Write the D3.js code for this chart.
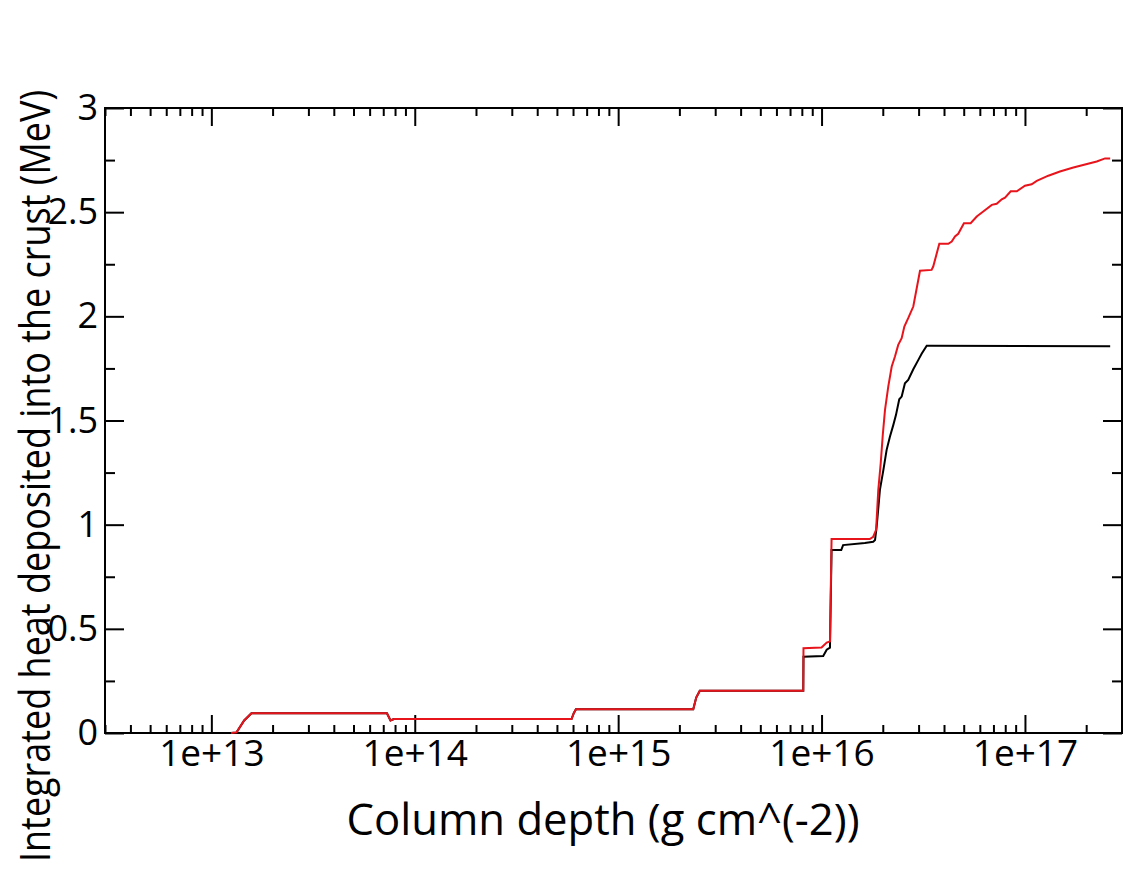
<!DOCTYPE html>
<html>
<head>
<meta charset="utf-8">
<script src="https://cdn.jsdelivr.net/npm/d3@7"></script>
<style>
  body { margin: 0; background: #fff; }
  text { font-family: 'Open Sans', sans-serif; fill: #000; }
</style>
</head>
<body>
<div id="chart"></div>
<script>
// red curve: column depth (g cm^-2) and integrated heat (MeV)
const redDepth = [1.25e13, 1.33e13, 1.45e13, 1.574e13, 7.3e13, 7.6e13, 7.9e13, 5.9e14, 6.05e14, 6.2e14,
  2.34e15, 2.42e15, 2.52e15, 8.13e15, 8.15e15, 1.0e16, 1.06e16, 1.1e16, 1.12e16, 1.726e16,
  1.795e16, 1.854e16, 1.901e16, 1.954e16, 2.0e16, 2.051e16, 2.128e16, 2.213e16, 2.296e16, 2.382e16,
  2.477e16, 2.553e16, 2.667e16, 2.825e16, 3.048e16, 3.475e16, 3.54e16, 3.793e16, 4.198e16, 4.365e16,
  4.529e16, 4.699e16, 5.012e16, 5.408e16, 5.794e16, 6.237e16, 6.871e16, 7.261e16, 7.691e16, 7.98e16,
  8.511e16, 9.12e16, 1.0e17, 1.079e17, 1.143e17, 1.303e17, 1.486e17, 1.73e17, 2.254e17, 2.477e17, 2.624e17];
const redHeat = [0, 0.003, 0.06, 0.095, 0.095, 0.06, 0.067, 0.067, 0.095, 0.114,
  0.114, 0.17, 0.203, 0.203, 0.407, 0.41, 0.434, 0.44, 0.931, 0.931,
  0.942, 0.975, 1.167, 1.295, 1.431, 1.551, 1.663, 1.759, 1.807, 1.863,
  1.895, 1.951, 1.991, 2.047, 2.219, 2.223, 2.239, 2.348, 2.348, 2.359,
  2.383, 2.396, 2.447, 2.447, 2.479, 2.503, 2.535, 2.54, 2.562, 2.57,
  2.6, 2.6, 2.627, 2.634, 2.65, 2.675, 2.695, 2.714, 2.743, 2.758, 2.758];

// black curve
const blackDepth = [1.25e13, 1.33e13, 1.45e13, 1.574e13, 7.3e13, 7.6e13, 7.9e13, 5.9e14, 6.05e14, 6.2e14,
  2.34e15, 2.42e15, 2.52e15, 8.13e15, 8.15e15, 1.019e16, 1.06e16, 1.1e16, 1.12e16, 1.25e16,
  1.276e16, 1.633e16, 1.795e16, 1.832e16, 1.866e16, 1.936e16, 2.014e16, 2.089e16, 2.168e16, 2.254e16,
  2.323e16, 2.41e16, 2.477e16, 2.57e16, 2.667e16, 2.825e16, 2.992e16, 3.105e16, 3.289e16, 3.412e16, 2.624e17];
const blackHeat = [0, 0.003, 0.06, 0.095, 0.095, 0.06, 0.067, 0.067, 0.095, 0.114,
  0.114, 0.17, 0.203, 0.203, 0.366, 0.37, 0.4, 0.41, 0.878, 0.878,
  0.902, 0.912, 0.918, 0.926, 0.99, 1.167, 1.263, 1.359, 1.422, 1.479,
  1.527, 1.602, 1.615, 1.679, 1.695, 1.746, 1.791, 1.82, 1.859, 1.859, 1.857];

// axis ticks
const xMajor = [1e13, 1e14, 1e15, 1e16, 1e17];
const xTickLabels = ['1e+13', '1e+14', '1e+15', '1e+16', '1e+17'];
const yMajor = [0, 0.5, 1, 1.5, 2, 2.5, 3];
const yTickLabels = ['0', '0.5', '1', '1.5', '2', '2.5', '3'];
const yMinor = [0.25, 0.75, 1.25, 1.75, 2.25, 2.75];

const W = 1123, H = 874;
const margin = { top: 108, right: 1, bottom: 141, left: 105 };
const width = W - margin.left - margin.right;
const height = H - margin.top - margin.bottom;

const svg = d3.select('#chart').append('svg')
  .attr('width', W)
  .attr('height', H);

const g = svg.append('g')
  .attr('transform', 'translate(' + margin.left + ',' + margin.top + ')');

const x = d3.scaleLog().domain([3e12, 3e17]).range([0, width]);
const y = d3.scaleLinear().domain([0, 3]).range([height, 0]);

// minor log ticks 2..9 of each decade inside the domain
const xMinor = x.ticks().filter(d => {
  const m = d / Math.pow(10, Math.floor(Math.log10(d) + 1e-9));
  return Math.abs(m - 1) > 1e-6;
});

function styleAxis(sel) {
  sel.select('.domain').remove();
  sel.selectAll('.tick line').style('stroke', '#000').style('stroke-width', 2);
}

// bottom
const gxMin = g.append('g').attr('transform', 'translate(0,' + height + ')')
  .call(d3.axisBottom(x).tickValues(xMinor).tickSize(-8).tickFormat(''));
styleAxis(gxMin);
const gx = g.append('g').attr('transform', 'translate(0,' + height + ')')
  .call(d3.axisBottom(x).tickValues(xMajor).tickSize(-18).tickPadding(10)
    .tickFormat((d, i) => xTickLabels[i]));
styleAxis(gx);
gx.selectAll('.tick text').style('font-size', '37px').attr('y', 7);

// top
styleAxis(g.append('g').call(d3.axisTop(x).tickValues(xMinor).tickSize(-8).tickFormat('')));
styleAxis(g.append('g').call(d3.axisTop(x).tickValues(xMajor).tickSize(-18).tickFormat('')));

// left
styleAxis(g.append('g').call(d3.axisLeft(y).tickValues(yMinor).tickSize(-10).tickFormat('')));
const gy = g.append('g')
  .call(d3.axisLeft(y).tickValues(yMajor).tickSize(-19).tickPadding(8)
    .tickFormat((d, i) => yTickLabels[i]));
styleAxis(gy);
gy.selectAll('.tick text').style('font-size', '36px').attr('x', -7);

// right
styleAxis(g.append('g').attr('transform', 'translate(' + width + ',0)')
  .call(d3.axisRight(y).tickValues(yMinor).tickSize(-10).tickFormat('')));
styleAxis(g.append('g').attr('transform', 'translate(' + width + ',0)')
  .call(d3.axisRight(y).tickValues(yMajor).tickSize(-19).tickFormat('')));

// frame
g.append('rect')
  .attr('width', width)
  .attr('height', height)
  .style('fill', 'none')
  .style('stroke', '#000')
  .style('stroke-width', 2);

const line = d3.line()
  .x(d => x(d[0]))
  .y(d => y(d[1]));

g.append('path')
  .datum(blackDepth.map((d, i) => [d, blackHeat[i]]))
  .attr('d', line)
  .style('fill', 'none')
  .style('stroke', '#000')
  .style('stroke-width', 2);

g.append('path')
  .datum(redDepth.map((d, i) => [d, redHeat[i]]))
  .attr('d', line)
  .style('fill', 'none')
  .style('stroke', '#e8141c')
  .style('stroke-width', 2);

// axis titles
svg.append('text')
  .attr('x', 603)
  .attr('y', 835)
  .attr('text-anchor', 'middle')
  .attr('textLength', 513)
  .attr('lengthAdjust', 'spacingAndGlyphs')
  .style('font-size', '44px')
  .text('Column depth (g cm^(-2))');

svg.append('text')
  .attr('transform', 'translate(50,476) rotate(-90)')
  .attr('text-anchor', 'middle')
  .attr('textLength', 772)
  .attr('lengthAdjust', 'spacingAndGlyphs')
  .style('font-size', '42px')
  .text('Integrated heat deposited into the crust (MeV)');
</script>
</body>
</html>
